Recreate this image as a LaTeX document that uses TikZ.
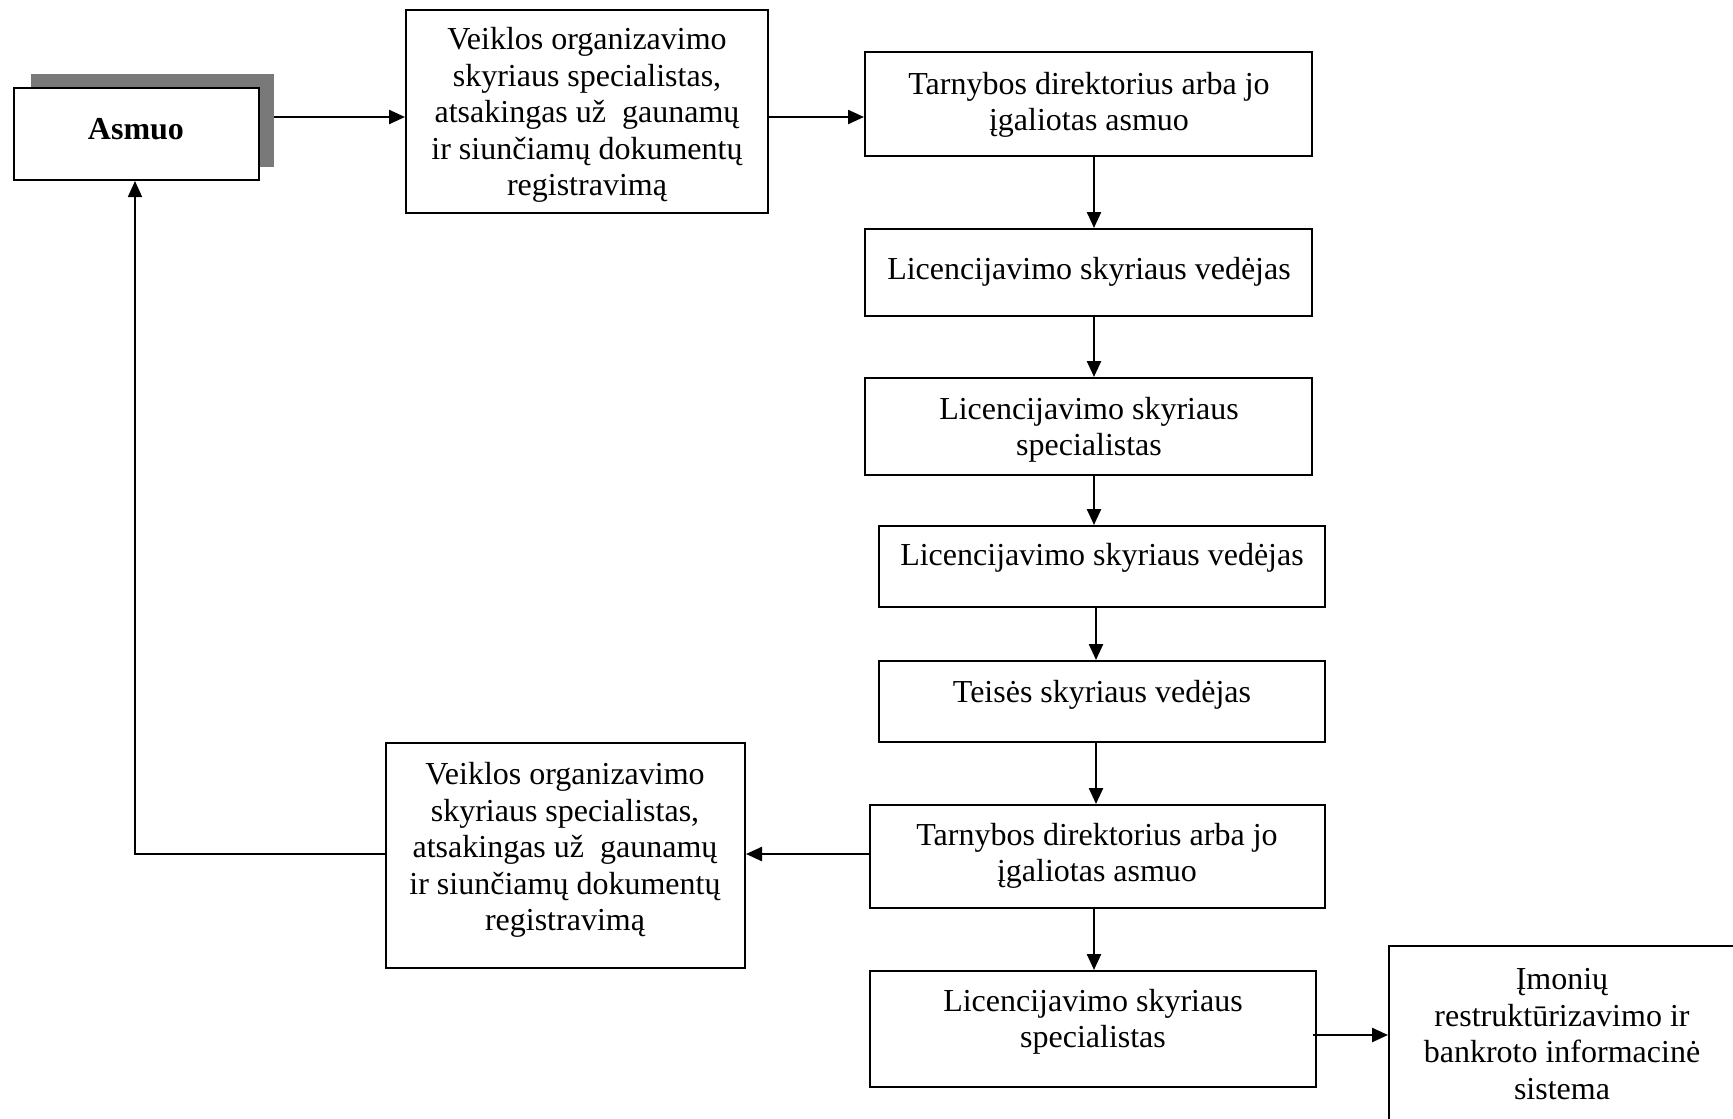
\documentclass[tikz,border=0pt]{standalone}
\usepackage{fontspec}
\setmainfont{Liberation Serif}
\usetikzlibrary{arrows.meta,calc}
\tikzset{
  boxnode/.style={draw=black, line width=2pt, fill=white, rectangle, inner sep=0pt},
  txt/.style={align=center, inner sep=0pt, font=\fontsize{32}{36.5}\selectfont},
  conn/.style={line width=2.4pt, -{Triangle[length=16pt,width=14pt]}},
  thinconn/.style={line width=1.8pt, -{Triangle[length=16pt,width=14pt]}},
}
\newcommand{\bx}[5]{% name, x1, y1, x2, y2
  \node[boxnode, minimum width={#4-#2}, minimum height={#5-#3}] (#1) at ({(#2+#4)/2},{(#3+#5)/2}) {};}
\begin{document}
\begin{tikzpicture}[x=1pt,y=-1pt]
\useasboundingbox (0,0) rectangle (1733,1119);
\clip (0,0) rectangle (1733,1119);
% Asmuo with shadow
\node[fill=gray!95!black, draw=none, rectangle, inner sep=0pt, minimum width=243, minimum height=93] (asmsh) at ({(31+274)/2},{(74+167)/2}) {};
\bx{asm}{14}{88}{259}{180}
\node[txt, font=\fontsize{32}{36.5}\selectfont\bfseries] (asmt) at (136,129) {Asmuo};
% Top VO
\bx{vo1}{406}{10}{768}{213}
\node[txt] (vo1t) at (587,115) {Veiklos organizavimo\\skyriaus specialistas,\\atsakingas už\ \ gaunamų\\ir siunčiamų dokumentų\\registravimą};
% T1
\bx{t1}{865}{52}{1312}{156}
\node[txt] (t1t) at (1089,105) {Tarnybos direktorius arba jo\\įgaliotas asmuo};
% LV1
\bx{lv1}{865}{229}{1312}{316}
\node[txt] (lv1t) at (1089,272) {Licencijavimo skyriaus vedėjas};
% LS1
\bx{ls1}{865}{378}{1312}{475}
\node[txt] (ls1t) at (1089,430) {Licencijavimo skyriaus\\specialistas};
% LV2
\bx{lv2}{879}{526}{1325}{607}
\node[txt] (lv2t) at (1102,558) {Licencijavimo skyriaus vedėjas};
% TV
\bx{tv}{879}{661}{1325}{742}
\node[txt] (tvt) at (1102,695) {Teisės skyriaus vedėjas};
% T2
\bx{t2}{870}{805}{1325}{908}
\node[txt] (t2t) at (1097,856) {Tarnybos direktorius arba jo\\įgaliotas asmuo};
% VO2
\bx{vo2}{386}{743}{745}{968}
\node[txt] (vo2t) at (565,850) {Veiklos organizavimo\\skyriaus specialistas,\\atsakingas už\ \ gaunamų\\ir siunčiamų dokumentų\\registravimą};
% LS2
\bx{ls2}{870}{971}{1316}{1087}
\node[txt] (ls2t) at (1093,1022) {Licencijavimo skyriaus\\specialistas};
% IR (cut off)
\bx{ir}{1389}{946}{1736}{1140}
\node[txt] (irt) at (1562,1034) {Įmonių\\restruktūrizavimo ir\\bankroto informacinė\\sistema};
% connectors
\coordinate (c1) at (1094,0);
\coordinate (c2) at (1096,0);
\draw[conn] (asmsh.east |- 0,117) -- (vo1.west |- 0,117);
\draw[conn] (vo1.east |- 0,117) -- (t1.west |- 0,117);
\draw[conn] (t1.south -| c1) -- (lv1.north -| c1);
\draw[conn] (lv1.south -| c1) -- (ls1.north -| c1);
\draw[conn] (ls1.south -| c1) -- (lv2.north -| c1);
\draw[conn] (lv2.south -| c2) -- (tv.north -| c2);
\draw[conn] (tv.south -| c2) -- (t2.north -| c2);
\draw[conn] (t2.south -| c1) -- (ls2.north -| c1);
\draw[conn] (t2.west |- 0,854) -- (vo2.east |- 0,854);
\coordinate (ret) at (135,854);
\draw[thinconn] (vo2.west |- ret) -- (ret) -- (asm.south -| ret);
\coordinate (ls2o) at (1313,1035);
\draw[conn] (ls2o) -- (ir.west |- ls2o);
\end{tikzpicture}
\end{document}
